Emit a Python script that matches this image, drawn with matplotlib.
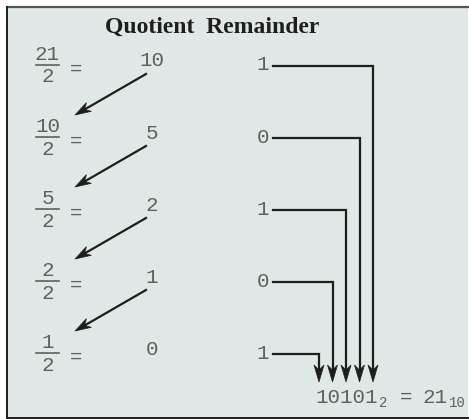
import matplotlib.pyplot as plt
from matplotlib.patches import Polygon, Rectangle
import numpy as np

# division steps of 21 by 2
dividends = [21, 10, 5, 2, 1]
divisor = 2
quotients = [10, 5, 2, 1, 0]
remainders = [1, 0, 1, 0, 1]
result_bin = "10101"
result_dec = "21"

W, H = 469, 419
bg = '#dfe8e6'
ink = '#1e1e1e'
gray = '#5f5f5f'
mono = 'Liberation Mono'

fig = plt.figure(figsize=(W / 100, H / 100), dpi=100)
ax = fig.add_axes([0, 0, 1, 1])
ax.set_xlim(0, W)
ax.set_ylim(H, 0)
ax.axis('off')

# panel
ax.add_patch(Rectangle((7, 7), W - 8, H - 8, facecolor=bg, edgecolor='none'))
ax.plot([7, W], [7, 7], color='#555555', lw=1.6)
ax.plot([7, 7], [7, H - 1], color=ink, lw=1.4)
ax.plot([7, W], [H - 1.5, H - 1.5], color=ink, lw=1.4)


def stealth(tip, tail, length=17, width=10, color=ink):
    tip = np.array(tip, float)
    d = tip - np.array(tail, float)
    d /= np.hypot(*d)
    n = np.array([-d[1], d[0]])
    back = tip - d * length
    notch = tip - d * length * 0.7
    pts = [tip, back + n * width / 2, notch, back - n * width / 2]
    ax.add_patch(Polygon(pts, closed=True, facecolor=color, edgecolor=color, lw=0.5))


ax.text(212, 27, "Quotient  Remainder", family='Liberation Serif', weight='bold',
        fontsize=17, ha='center', va='center', color=ink)

row_y = [65 + 72 * i for i in range(len(dividends))]
fs = 15

for i, (dv, q, r) in enumerate(zip(dividends, quotients, remainders)):
    y = row_y[i]
    # fraction
    ax.text(47.5, y - 11, str(dv), family=mono, fontsize=fs, ha='center', va='center', color=gray)
    ax.text(47.5, y + 12, str(divisor), family=mono, fontsize=fs, ha='center', va='center', color=gray)
    ax.plot([36, 59], [y, y], color=gray, lw=1.2)
    ax.text(76, y + 4, "=", family=mono, fontsize=fs, ha='center', va='center', color=gray)
    # quotient
    ax.text(152, y - 4, str(q), family=mono, fontsize=fs, ha='center', va='center', color=gray)
    # remainder
    ax.text(263, y, str(r), family=mono, fontsize=fs, ha='center', va='center', color=gray)
    xv = 319 + 13.5 * (len(dividends) - 1 - i)
    ax.plot([273, xv, xv], [y + 1, y + 1, 370], color=ink, lw=1.6, solid_joinstyle='miter')
    stealth((xv, 382), (xv, y))
    # quotient feeds the next division
    if i < len(dividends) - 1:
        x0, y0 = 146, y + 9
        x1, y1 = 75, y + 50
        ax.plot([x0, x1 + 8], [y0, y1 - 4.6], color=ink, lw=1.6)
        stealth((x1, y1), (x0, y0), length=16, width=10)

# result line: 10101 (base 2) = 21 (base 10)
ax.text(315, 397, result_bin, family=mono, fontsize=fs, ha='left', va='center', color=gray)
ax.text(379, 403, "2", family=mono, fontsize=10, ha='left', va='center', color=gray)
ax.text(406, 397, "=", family=mono, fontsize=fs, ha='center', va='center', color=gray)
ax.text(423, 397, result_dec, family=mono, fontsize=fs, ha='left', va='center', color=gray)
ax.text(449, 403, "10", family=mono, fontsize=10, ha='left', va='center', color=gray)

fig.savefig('out.png', dpi=100, facecolor='white')
